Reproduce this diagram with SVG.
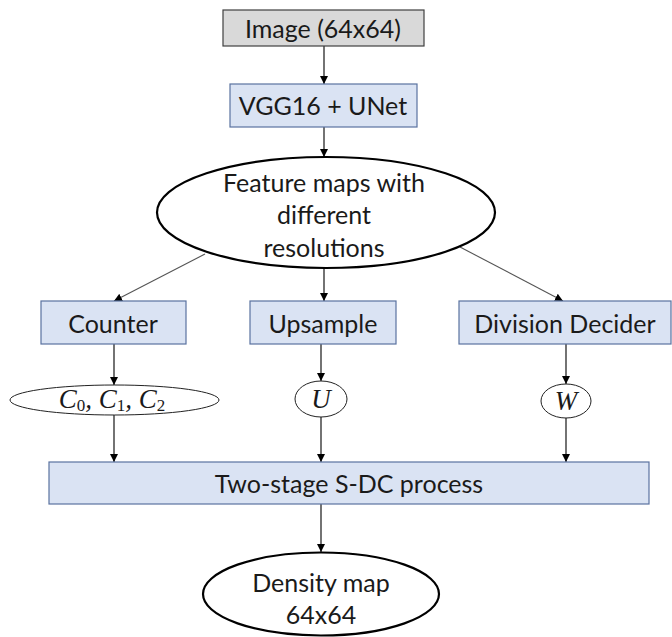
<svg xmlns="http://www.w3.org/2000/svg" width="672" height="637" viewBox="0 0 672 637">
<style>
.t{font-family:Lato,"Liberation Sans",sans-serif;font-size:25px;fill:#1a1a1a;text-anchor:middle;dominant-baseline:central}
.m{font-family:"Liberation Serif",serif;font-style:italic;font-size:27px;fill:#1a1a1a;text-anchor:middle;dominant-baseline:central}
.blue{fill:#dae3f3;stroke:#5a72a0;stroke-width:1.2}
.gray{fill:#d9d9d9;stroke:#404040;stroke-width:1.2}
.big{fill:#fff;stroke:#000;stroke-width:2.2}
.small{fill:#fff;stroke:#222;stroke-width:1}
.c{stroke:#000;stroke-width:1.1;fill:none;marker-end:url(#ah)}
.d{stroke:#555;stroke-width:1.1;fill:none;marker-end:url(#ah)}
</style>
<defs>
<marker id="ah" viewBox="0 0 10 10" refX="10" refY="5" markerWidth="8" markerHeight="8" markerUnits="userSpaceOnUse" orient="auto">
<path d="M0,0 L10,5 L0,10 z" fill="#000"/>
</marker>
</defs>
<rect width="672" height="637" fill="#fff"/>
<g id="connectors">
<line class="c" x1="324" y1="46" x2="324" y2="84"/>
<line class="c" x1="324" y1="127" x2="324" y2="157"/>
<line class="d" x1="205" y1="254" x2="114" y2="301"/>
<line class="c" x1="324" y1="268" x2="324" y2="301"/>
<line class="d" x1="460" y1="247" x2="563" y2="301"/>
<line class="c" x1="114" y1="344" x2="114" y2="385"/>
<line class="c" x1="321" y1="344" x2="321" y2="381"/>
<line class="c" x1="566" y1="344" x2="566" y2="384"/>
<line class="c" x1="114" y1="415" x2="114" y2="462"/>
<line class="c" x1="321" y1="417" x2="321" y2="462"/>
<line class="c" x1="566" y1="418" x2="566" y2="462"/>
<line class="c" x1="321" y1="504" x2="321" y2="552"/>
</g>
<g id="image">
<rect class="gray" x="223" y="10" width="201" height="36"/>
<text class="t" x="323" y="28">Image (64x64)</text>
</g>
<g id="vgg">
<rect class="blue" x="230" y="84" width="187" height="43"/>
<text class="t" x="323" y="105">VGG16 + UNet</text>
</g>
<g id="features">
<ellipse class="big" cx="326" cy="212.5" rx="169" ry="55.5"/>
<text class="t" x="324" y="182">Feature maps with</text>
<text class="t" x="324" y="214">different</text>
<text class="t" x="324" y="247">resolutions</text>
</g>
<g id="counter">
<rect class="blue" x="41" y="301" width="145" height="43"/>
<text class="t" x="113" y="323">Counter</text>
</g>
<g id="upsample">
<rect class="blue" x="250" y="301" width="146" height="43"/>
<text class="t" x="323" y="323">Upsample</text>
</g>
<g id="division">
<rect class="blue" x="459" y="301" width="212" height="43"/>
<text class="t" x="565" y="323">Division Decider</text>
</g>
<g id="c012">
<ellipse class="small" cx="114.5" cy="400" rx="104.5" ry="15"/>
<text class="m" x="112" y="399">C<tspan font-style="normal" font-size="17" dy="6">0</tspan><tspan dy="-6">, C</tspan><tspan font-style="normal" font-size="17" dy="6">1</tspan><tspan dy="-6">, C</tspan><tspan font-style="normal" font-size="17" dy="6">2</tspan></text>
</g>
<g id="u">
<ellipse class="small" cx="321" cy="399" rx="26" ry="18"/>
<text class="m" x="321" y="399">U</text>
</g>
<g id="w">
<ellipse class="small" cx="566" cy="401" rx="25" ry="17"/>
<text class="m" x="566" y="401">W</text>
</g>
<g id="sdc">
<rect class="blue" x="49" y="462" width="600" height="42"/>
<text class="t" x="349" y="483">Two-stage S-DC process</text>
</g>
<g id="density">
<ellipse class="big" cx="321" cy="594" rx="118" ry="41.5"/>
<text class="t" x="321" y="582">Density map</text>
<text class="t" x="321" y="614">64x64</text>
</g>
</svg>
